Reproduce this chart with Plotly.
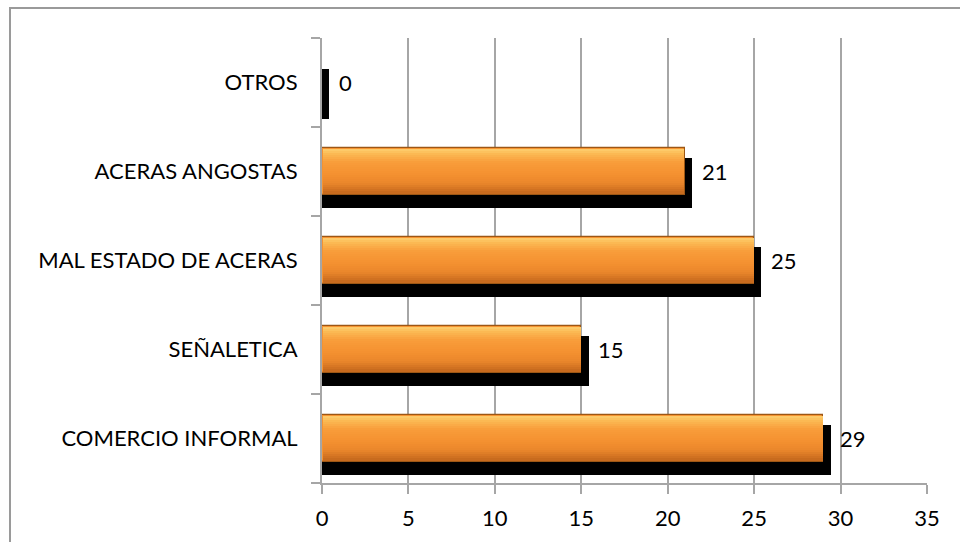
import plotly.graph_objects as go

categories = ["COMERCIO INFORMAL", "SEÑALETICA", "MAL ESTADO DE ACERAS", "ACERAS ANGOSTAS", "OTROS"]
values = [29, 15, 25, 21, 0]
x_ticks = [0, 5, 10, 15, 20, 25, 30, 35]

FONT = "Lato"
FS = 22
SHADOW_DX = 0.42  # shadow offset in data units (~7px)

W, H = 960, 542
L, R, T, B = 322, 33, 38, 59
pw, ph = W - L - R, H - T - B

fig = go.Figure()

# shadow
fig.add_trace(go.Bar(
    y=categories, x=[v + SHADOW_DX for v in values], orientation="h",
    marker=dict(color="#000000", line=dict(width=0)),
    offset=-0.41, width=0.565, hoverinfo="skip", showlegend=False))

# main bar
BAR_OFF, BAR_W = -0.26, 0.52
fig.add_trace(go.Bar(
    y=categories, x=values, orientation="h",
    marker=dict(color="#F59331", line=dict(color="#9C5715", width=1.2)),
    offset=BAR_OFF, width=BAR_W, hoverinfo="skip", showlegend=False))

# smooth vertical gradient (style only): color stops top -> bottom
stops = [(0.00, (253, 206, 110)), (0.12, (251, 184, 82)), (0.30, (248, 157, 58)),
         (0.55, (245, 146, 49)), (0.78, (234, 134, 43)), (1.00, (196, 104, 28))]

def col_at(t):
    for (t0, c0), (t1, c1) in zip(stops[:-1], stops[1:]):
        if t0 <= t <= t1:
            f = (t - t0) / (t1 - t0)
            return "rgb(%d,%d,%d)" % tuple(round(a + (b - a) * f) for a, b in zip(c0, c1))
    return "rgb(%d,%d,%d)" % stops[-1][1]

N = 22
inset = 0.012
inner_top = BAR_OFF + BAR_W - inset
inner_h = BAR_W - 2 * inset
bh = inner_h / N
for i in range(N):
    t = (i + 0.5) / N
    off = inner_top - (i + 1) * bh
    fig.add_trace(go.Bar(
        y=categories, x=[max(v - 0.06, 0) for v in values], orientation="h",
        base=[0.03 if v > 0 else 0 for v in values],
        marker=dict(color=col_at(t), line=dict(width=0)),
        offset=off, width=bh * 1.05, hoverinfo="skip", showlegend=False))

for c, v in zip(categories, values):
    fig.add_annotation(x=v, y=c, text=str(v), showarrow=False,
                       xanchor="left", yanchor="middle", xshift=15, yshift=0,
                       font=dict(family=FONT, size=FS, color="#000000"))

# outer border
fig.add_shape(type="rect", xref="paper", yref="paper",
              x0=(10 - L) / pw, x1=(975 - L) / pw,
              y0=(T + ph - 600) / ph, y1=1 + (T - 8) / ph,
              line=dict(color="#9a9a9a", width=2), fillcolor="rgba(0,0,0,0)")

fig.update_layout(
    width=W, height=H,
    margin=dict(l=L, r=R, t=T, b=B, autoexpand=False),
    paper_bgcolor="white", plot_bgcolor="white",
    barmode="overlay", bargap=0,
    font=dict(family=FONT, size=FS, color="#000000"),
    xaxis=dict(range=[0, 35], tickvals=x_ticks, ticktext=[str(t) for t in x_ticks],
               showgrid=True, gridcolor="#a6a6a6", gridwidth=2,
               showline=True, linecolor="#a6a6a6", linewidth=2,
               ticks="outside", ticklen=9, tickwidth=2, tickcolor="#a6a6a6",
               ticklabelstandoff=6,
               zeroline=False, automargin=False, fixedrange=True,
               tickfont=dict(family=FONT, size=FS, color="#000000")),
    yaxis=dict(type="category", categoryorder="array", categoryarray=categories,
               range=[-0.5, 4.5], showgrid=False,
               showline=True, linecolor="#a6a6a6", linewidth=2,
               ticks="outside", ticklen=9, tickwidth=2, tickcolor="#a6a6a6",
               tickson="boundaries", ticklabelstandoff=18,
               zeroline=False, automargin=False, fixedrange=True,
               tickfont=dict(family=FONT, size=FS, color="#000000")),
)

fig.write_html("out.html")
